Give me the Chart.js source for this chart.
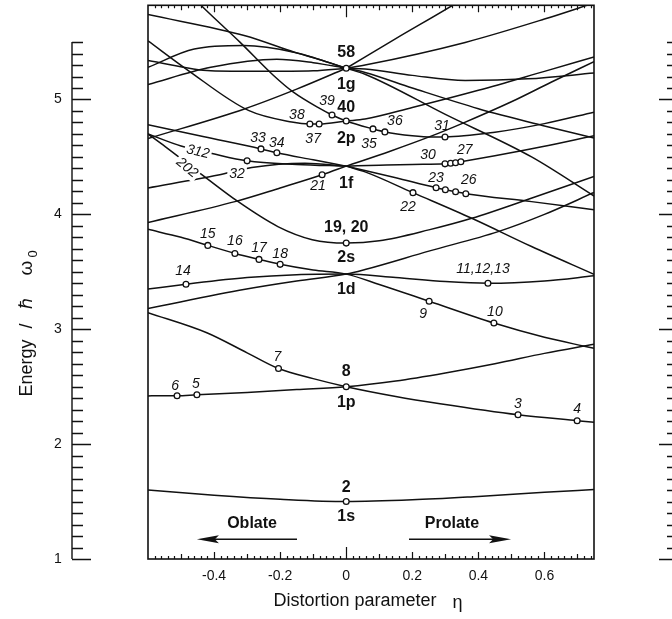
<!DOCTYPE html>
<html>
<head>
<meta charset="utf-8">
<script src="https://cdn.jsdelivr.net/npm/chart.js@4.4.0/dist/chart.umd.min.js"></script>
<style>
  html, body { margin: 0; padding: 0; background: #fff; }
  #wrap { width: 672px; height: 619px; }
</style>
</head>
<body>
<div id="wrap"><canvas id="levels" width="672" height="619"></canvas></div>
<script>
// Single-particle levels E / (hbar w0) against the distortion parameter eta.
// Each level is a list of [eta, energy] pairs.
const lvl1s  = [[-0.6,1.60],[-0.4,1.555],[-0.2,1.52],[0,1.50],[0.2,1.515],[0.4,1.545],[0.6,1.58],[0.75,1.605]];

const lvl1pA = [[-0.6,2.42],[-0.512,2.421],[-0.452,2.430],[-0.3,2.45],[-0.15,2.475],[0,2.50],[0.15,2.55],[0.3,2.62],[0.45,2.70],[0.6,2.79],[0.75,2.87]];
const lvl1pB = [[-0.6,3.145],[-0.422,2.97],[-0.3,2.795],[-0.205,2.658],[-0.1,2.57],[0,2.50],[0.15,2.415],[0.284,2.352],[0.52,2.256],[0.699,2.204],[0.75,2.19]];

const lvl1dA = [[-0.6,3.87],[-0.5,3.80],[-0.419,3.730],[-0.337,3.660],[-0.264,3.608],[-0.2,3.565],[-0.1,3.515],[0,3.48],[0.1,3.39],[0.251,3.244],[0.447,3.054],[0.6,2.93],[0.717,2.855],[0.75,2.835]];
const lvl1dB = [[-0.6,3.35],[-0.485,3.392],[-0.3,3.45],[-0.15,3.475],[0,3.48],[0.15,3.45],[0.3,3.415],[0.429,3.400],[0.6,3.42],[0.75,3.465]];
const lvl1dC = [[-0.6,3.18],[-0.306,3.348],[-0.15,3.42],[0,3.48],[0.057,3.52],[0.25,3.68],[0.46,3.85],[0.6,4.0],[0.75,4.19]];

const lvl2s  = [[-0.6,4.70],[-0.548,4.59],[-0.45,4.375],[-0.327,4.11],[-0.207,3.894],[-0.103,3.78],[0,3.75],[0.1,3.77],[0.25,3.865],[0.38,3.966],[0.56,4.14],[0.75,4.33]];

// 1f branches, oblate side then prolate side
const f1L = [[-0.6,4.78],[-0.43,4.675],[-0.258,4.570],[-0.21,4.536],[-0.1,4.475],[0,4.42]];
const f2L = [[-0.6,4.70],[-0.5,4.595],[-0.406,4.53],[-0.3,4.466],[-0.15,4.435],[0,4.42]];
const f3L = [[-0.6,4.23],[-0.387,4.342],[-0.286,4.408],[-0.125,4.445],[0,4.42]];
const f4L = [[-0.6,3.93],[-0.337,4.111],[-0.2,4.23],[-0.073,4.345],[0,4.42]];
const f1R = [[0,4.42],[0.057,4.37],[0.202,4.189],[0.38,3.966],[0.561,3.72],[0.75,3.478]];
const f2R = [[0,4.42],[0.15,4.318],[0.272,4.232],[0.300,4.215],[0.331,4.197],[0.362,4.180],[0.561,4.111],[0.75,4.04]];
const f3R = [[0,4.42],[0.1,4.428],[0.2,4.435],[0.299,4.44],[0.316,4.445],[0.331,4.45],[0.347,4.458],[0.45,4.51],[0.592,4.588],[0.75,4.685]];
const f4R = [[0,4.42],[0.133,4.55],[0.259,4.683],[0.35,4.79],[0.5,4.98],[0.62,5.15],[0.75,5.33]];

// 2p branches
const lvl2pA = [[-0.6,5.51],[-0.478,5.252],[-0.296,4.905],[-0.165,4.804],[-0.11,4.787],[-0.082,4.787],[0,4.813],[0.057,4.83],[0.2,4.93],[0.4,5.08],[0.6,5.245],[0.75,5.37]];
const lvl2pB = [[-0.5,5.99],[-0.417,5.757],[-0.321,5.497],[-0.22,5.209],[-0.16,5.064],[-0.079,4.92],[-0.043,4.865],[0,4.813],[0.081,4.744],[0.117,4.718],[0.2,4.685],[0.26,4.674],[0.299,4.674],[0.45,4.715],[0.6,4.79],[0.75,4.89]];

// 1g branches
const g1L = [[-0.6,5.74],[-0.306,5.555],[-0.155,5.41],[-0.084,5.35],[0,5.272]];
const g2L = [[-0.6,5.28],[-0.46,5.44],[-0.31,5.47],[-0.155,5.41],[0,5.272]];
const g3L = [[-0.6,5.34],[-0.41,5.25],[-0.26,5.245],[-0.1,5.25],[0,5.272]];
const g4L = [[-0.6,5.13],[-0.41,5.28],[-0.21,5.35],[-0.1,5.32],[0,5.272]];
const g5L = [[-0.6,4.66],[-0.306,4.92],[-0.15,5.09],[0,5.272]];
const g1R = [[0,5.272],[0.15,5.53],[0.322,5.82],[0.4,5.96]];
const g2R = [[0,5.272],[0.057,5.30],[0.36,5.497],[0.6,5.70],[0.75,5.84]];
const g3R = [[0,5.272],[0.057,5.266],[0.2,5.21],[0.36,5.165],[0.55,5.18],[0.75,5.23]];
const g4R = [[0,5.272],[0.057,5.235],[0.2,5.10],[0.40,4.92],[0.6,4.77],[0.75,4.665]];
const g5R = [[0,5.272],[0.057,5.22],[0.3,4.87],[0.561,4.50],[0.75,4.16]];

// closed-shell numbers on the levels: [text, eta, energy]
const shellMarks = [
  ['2',0,1.50],['8',0,2.50],['19, 20',0,3.75],['40',0,4.813],['58',0,5.272],
  ['6',-0.512,2.421],['5',-0.452,2.430],['7',-0.205,2.658],['3',0.52,2.256],['4',0.699,2.204],
  ['9',0.251,3.244],['10',0.447,3.054],['14',-0.485,3.392],['11,12,13',0.429,3.400],
  ['15',-0.419,3.730],['16',-0.337,3.660],['17',-0.264,3.608],['18',-0.2,3.565],
  ['21',-0.073,4.345],['22',0.202,4.189],
  ['23',0.272,4.232],['24',0.300,4.215],['25',0.331,4.197],['26',0.362,4.180],
  ['30',0.299,4.44],['29',0.316,4.445],['28',0.331,4.45],['27',0.347,4.458],
  ['31',0.299,4.674],['32',-0.3,4.466],['33',-0.258,4.570],['34',-0.21,4.536],
  ['35',0.081,4.744],['36',0.117,4.718],['37',-0.082,4.787],['38',-0.11,4.787],['39',-0.043,4.865]
];
// spherical orbital names at eta = 0
const orbitals = [['1s',1.50],['1p',2.50],['1d',3.48],['2s',3.75],['1f',4.42],['2p',4.813],['1g',5.272]];
// asymptotic labels written along two of the levels
const nilssonTags = [['312',-0.449,4.544],['202',-0.482,4.405]];

const xTickLabels = [-0.4, -0.2, 0, 0.2, 0.4, 0.6];
const yTickLabels = [1, 2, 3, 4, 5];

const levels = [lvl1s, lvl1pA, lvl1pB, lvl1dA, lvl1dB, lvl1dC, lvl2s,
  f1L, f2L, f3L, f4L, f1R, f2R, f3R, f4R, lvl2pA, lvl2pB,
  g1L, g2L, g3L, g4L, g5L, g1R, g2R, g3R, g4R, g5R];

const INK = '#111';
const SANS = '"Liberation Sans", Arial, Helvetica, sans-serif';
const bold = new Set(['2', '8', '19, 20', '40', '58']);
const unlabeled = new Set(['24', '25', '28', '29']);

// text offsets from the marker (px)
const markShift = {
  '2':[0,-14], '8':[0,-15], '19, 20':[0,-15], '40':[0,-13], '58':[0,-16],
  '6':[-2,-10], '5':[-1,-11], '7':[-1,-11], '3':[0,-11], '4':[0,-12], '9':[-6,13], '10':[1,-11],
  '14':[-3,-13], '11,12,13':[-5,-14], '15':[0,-11], '16':[0,-12], '17':[0,-11], '18':[0,-10],
  '21':[-4,11], '22':[-5,14], '23':[0,-10], '26':[3,-14], '30':[-17,-9], '27':[4,-12], '31':[-3,-11],
  '32':[-10,13], '33':[-3,-11], '34':[0,-10], '35':[-4,15], '36':[10,-11], '37':[-6,15], '38':[-13,-9], '39':[-5,-14]
};
const orbitalShift = { '1s':15, '1p':16, '1d':15, '2s':15, '1f':17, '2p':18, '1g':16 };
const tagAngle = { '312':13, '202':40 };

const toXY = pts => pts.map(([x, y]) => ({ x, y }));

function put(ctx, text, px, py, font, rot, knockout) {
  ctx.save();
  ctx.font = font;
  ctx.translate(px, py);
  if (rot) ctx.rotate(rot * Math.PI / 180);
  if (knockout) {
    const w = ctx.measureText(text).width;
    ctx.fillStyle = '#fff';
    ctx.fillRect(-w / 2 - 2, -8, w + 4, 16);
  }
  ctx.fillStyle = INK;
  ctx.textAlign = 'center';
  ctx.textBaseline = 'middle';
  ctx.fillText(text, 0, 0);
  ctx.restore();
}

function energyAxis(ctx, y, x0, dir) {
  // vertical energy scale with 0.1 minor ticks, dir = +1 ticks to the right
  ctx.beginPath();
  ctx.moveTo(x0, y.getPixelForValue(1));
  ctx.lineTo(x0, y.getPixelForValue(5.5));
  for (let k = 10; k <= 55; k++) {
    const py = Math.round(y.getPixelForValue(k / 10)) + 0.5;
    const len = k % 10 === 0 ? 19 : 11;
    ctx.moveTo(x0, py);
    ctx.lineTo(x0 + dir * len, py);
  }
  ctx.stroke();
}

const decorations = {
  id: 'decorations',
  afterDatasetsDraw(chart) {
    const { ctx, chartArea: a, scales: { x, y } } = chart;
    ctx.save();
    ctx.strokeStyle = INK;
    ctx.fillStyle = INK;

    // frame with ticks on top and bottom edges
    ctx.lineWidth = 1.6;
    ctx.strokeRect(a.left, a.top, a.right - a.left, a.bottom - a.top);
    ctx.lineWidth = 1.2;
    ctx.beginPath();
    for (let k = -29; k <= 37; k++) {
      const px = Math.round(x.getPixelForValue(k / 50)) + 0.5;
      const len = k === 0 ? 12 : k % 10 === 0 ? 7 : k % 5 === 0 ? 5 : 3;
      ctx.moveTo(px, a.bottom); ctx.lineTo(px, a.bottom - len);
      ctx.moveTo(px, a.top); ctx.lineTo(px, a.top + len);
    }
    ctx.stroke();

    const tickFont = '14px ' + SANS;
    xTickLabels.forEach(v => put(ctx, v === 0 ? '0' : v.toFixed(1), x.getPixelForValue(v), a.bottom + 17, tickFont));

    // detached energy scales on both sides
    ctx.lineWidth = 1.4;
    energyAxis(ctx, y, 72, 1);
    energyAxis(ctx, y, 678, -1);
    yTickLabels.forEach(v => put(ctx, String(v), 58, y.getPixelForValue(v), tickFont));

    // axis titles
    const xt = 'Distortion parameter';
    ctx.font = '18px ' + SANS;
    const w1 = ctx.measureText(xt).width;
    const wEta = ctx.measureText('\u03B7').width;
    const gap = 16;
    const startX = 368 - (w1 + gap + wEta) / 2;
    ctx.textBaseline = 'middle';
    ctx.textAlign = 'left';
    ctx.fillText(xt, startX, 601);
    ctx.fillText('\u03B7', startX + w1 + gap, 603);

    const titleFont = '18px ' + SANS;
    put(ctx, 'Energy', 27, 368, titleFont, -90);
    put(ctx, '/', 27, 326, titleFont, -90);
    put(ctx, '\u210F', 27, 303, titleFont, -90);
    put(ctx, '\u03C9', 27, 268, '19px ' + SANS, -90);
    put(ctx, '0', 33, 254, '13px ' + SANS, -90);

    // oblate / prolate arrows
    const ay = y.getPixelForValue(1.173);
    const arrow = (from, to) => {
      const p0 = x.getPixelForValue(from), p1 = x.getPixelForValue(to);
      const s = Math.sign(p1 - p0);
      ctx.lineWidth = 1.5;
      ctx.beginPath();
      ctx.moveTo(p0, ay); ctx.lineTo(p1 - s * 12, ay);
      ctx.stroke();
      ctx.beginPath();
      ctx.moveTo(p1, ay);
      ctx.lineTo(p1 - s * 22, ay - 4);
      ctx.lineTo(p1 - s * 18, ay);
      ctx.lineTo(p1 - s * 22, ay + 4);
      ctx.closePath();
      ctx.fill();
    };
    arrow(-0.149, -0.452);
    arrow(0.19, 0.499);
    const boldFont = 'bold 16px ' + SANS;
    put(ctx, 'Oblate', x.getPixelForValue(-0.285), y.getPixelForValue(1.312), boldFont);
    put(ctx, 'Prolate', x.getPixelForValue(0.32), y.getPixelForValue(1.312), boldFont);

    // shell numbers and orbital names
    const italic = 'italic 14px ' + SANS;
    shellMarks.forEach(([t, ex, ey]) => {
      if (unlabeled.has(t)) return;
      const [dx, dy] = markShift[t] || [0, -11];
      put(ctx, t, x.getPixelForValue(ex) + dx, y.getPixelForValue(ey) + dy,
          bold.has(t) ? boldFont : italic, 0, t === '32');
    });
    orbitals.forEach(([t, ey]) => put(ctx, t, x.getPixelForValue(0), y.getPixelForValue(ey) + orbitalShift[t], boldFont));
    nilssonTags.forEach(([t, ex, ey]) => put(ctx, t, x.getPixelForValue(ex), y.getPixelForValue(ey), italic, tagAngle[t], true));

    ctx.restore();
  }
};

const datasets = levels.map(lv => ({
  data: toXY(lv),
  showLine: true,
  borderColor: INK,
  borderWidth: 1.5,
  pointRadius: 0,
  cubicInterpolationMode: 'monotone',
  order: 2
}));
datasets.push({
  data: shellMarks.map(([, x, y]) => ({ x, y })),
  showLine: false,
  pointRadius: 2.9,
  pointBackgroundColor: '#fff',
  pointBorderColor: INK,
  pointBorderWidth: 1.3,
  order: 0
});

new Chart(document.getElementById('levels'), {
  type: 'scatter',
  data: { datasets },
  options: {
    responsive: false,
    animation: false,
    devicePixelRatio: 1,
    layout: { padding: { left: 148, right: 78, top: 3, bottom: 60 } },
    plugins: { legend: { display: false }, tooltip: { enabled: false } },
    scales: {
      x: { type: 'linear', min: -0.6, max: 0.75, display: false },
      y: { type: 'linear', min: 1, max: 5.82, display: false }
    }
  },
  plugins: [decorations]
});
</script>
</body>
</html>
